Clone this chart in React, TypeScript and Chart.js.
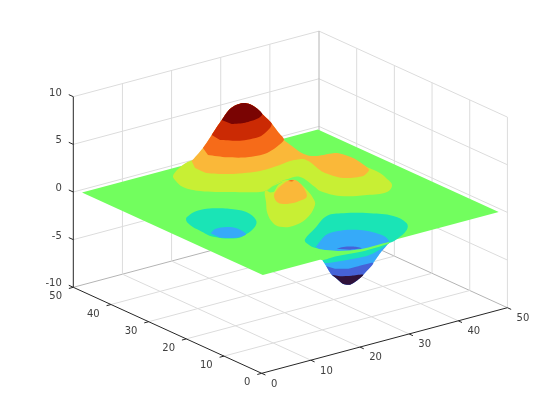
import React, { useEffect, useRef } from "react";
import { Chart, registerables } from "chart.js";

Chart.register(...registerables);

// ---- tick values ----
const xTicks = [0, 10, 20, 30, 40, 50];
const yTicks = [0, 10, 20, 30, 40, 50];
const zTicks = [-10, -5, 0, 5, 10];

// ---- surface: filled level regions, [x, y] ----
const levels = { peak: 6.63, red: 5.17, orange: 3.7, amber: 2.24, lime: 0.77, ground: 0, teal: -0.69, blue: -2.16, indigo: -3.62, pit: -5.09 };

const groundEdge = [[1, 1], [49, 1], [49, 49], [1, 49]];

// the pit's outline under the floor's front edge (read at the deepest level)
const pitRim = [[26.57, 18.57], [25.28, 15.89], [24.53, 14.31], [23.56, 12.15], [23.25, 10.87], [22.44, 7.6], [23.1, 6.69], [25.08, 7.5], [27.62, 9.05], [32.19, 12.36], [36.56, 15.83], [39.84, 18.17]];
const pitIndigoTop = [[25.4, 7.49], [23.44, 7.59], [21.73, 8.89]];
const pitDeepTop = [[25.85, 9.82], [24.17, 10.74]];
const pitWallTeal = [[15.82, 5.15], [29.46, 4.63], [28.05, 2.8], [22.32, 0.37], [18.12, 0.65], [14.21, 1.72], [14.78, 3.2]];

const pitMouthTeal = [[18.3, 12.38], [22.68, 15.43], [27.65, 18.8], [30.54, 18.16], [33.97, 15.55], [36.2, 12.28], [35.86, 8.28], [33.98, 5.83], [30.07, 3.4], [27.88, 2.76], [22.41, 4.01], [19.56, 5.61], [17.27, 7.93], [17.4, 10.74]];
const pitMouthBlue = [[21.45, 13.64], [26.38, 17.15], [30, 17], [31.92, 15.54], [32.89, 13.63], [33.31, 10.99], [32.76, 9.08], [31.92, 7.98], [26.51, 8.04], [23.19, 9.99], [21.3, 12.3]];
const pitMouthIndigo = [[27.58, 16.06], [28.91, 16.04], [30.49, 15.01], [30.9, 13.76], [29.01, 14.39]];
const pitLip = [[15.13, 5.32], [17.44, 2.4], [21, 0.85], [26.48, 0.74], [26.05, 0.19], [20.33, -0.1], [15.46, 0.71], [12.76, 0.73], [13.44, 3.12]];

const dipTeal = [[8.73, 31.47], [11.07, 33], [13.68, 33.34], [15.68, 32.4], [17.53, 30.4], [18.41, 27.99], [17.44, 24.26], [15.43, 21.9], [12.13, 19.99], [9.81, 19.43], [7.26, 22.31], [7.24, 25.81], [7.56, 28.88]];
const dipBlue = [[11.82, 28.94], [13.58, 30.1], [15.65, 29.69], [16.57, 28.24], [16.07, 25.13], [13.92, 24.79], [11.78, 26.42]];

const limeMain = [[15.25, 43.42], [17.45, 45.23], [21.65, 47.26], [29.88, 47.37], [36.94, 41.99], [37.34, 35.87], [41.65, 34.33], [42.58, 31.3], [42.67, 27.17], [42.67, 24.26], [42.04, 21.83], [40.84, 18.67], [38.23, 16.6], [34.81, 17.46], [31.06, 19.73], [29.91, 23.52], [30.38, 25.48], [31.28, 30.62], [29.18, 31.07], [26.63, 30.67], [23.38, 29.08], [21.92, 29.04], [18.07, 31.97], [14.5, 35.27], [13.43, 38.4], [14.38, 41.76]];
const limeLeg = [[22.61, 28.69], [19.96, 24.89], [16.87, 20.5], [14.87, 16.39], [14.73, 14.35], [16.59, 13.34], [20.52, 14.81], [25.32, 18.88], [27.04, 21.65], [28.82, 26.09], [29.53, 29.22], [28.89, 30.7], [26.63, 30.67], [23.38, 29.08]];
const groundNotch = [[25.24, 31.5], [27.33, 32.64], [29.82, 33.23], [28.25, 32.51], [25.86, 30.45], [25.12, 30.55]];
const bumpAmber = [[18.94, 21.43], [20.69, 23], [22.74, 24.34], [24.8, 25.28], [25.86, 24.87], [25.57, 23.17], [24.32, 20.23], [22.66, 17.6], [21.09, 16.88], [18.87, 16.65], [17.59, 17.22], [17.4, 18.7]];
const bumpTip = [[20.74, 20.06], [21.4, 20.13], [21.65, 19.65], [21.11, 19.48]];

// the hill's outline against the floor, left foot over the summit to the right foot (read at the top level)
const hillRim = [[6.14, 26.59], [8.51, 28.27], [11.25, 30.26], [13.66, 32.2], [16.03, 34.17], [18.76, 36.46], [21.53, 38.69], [24.99, 41.46], [27.31, 42.7], [29.09, 42.81], [29.61, 41.72], [29.32, 39.56], [28.43, 36.92], [27.77, 34.81], [26.96, 32.51], [25.38, 28.77], [23.9, 25.26], [23.24, 22.27], [22.58, 19.29]];
const hillAmberFoot = [[34.41, 32.59], [35.43, 31.53], [38.84, 30.67], [39.48, 27.26], [38.94, 23.62], [38.17, 21.3], [35.71, 19.68], [32.58, 20.91], [31.7, 25.07], [32.84, 30.01], [32.78, 31.8], [30.55, 32.33], [27.47, 31.77], [23.89, 31.6], [19.57, 33.14], [16.52, 36.06], [16.39, 39.07]];
const hillOrangeFoot = [[25.91, 32.38], [22.13, 32.76], [19.56, 34.72], [17.77, 37.43]];
const hillRedFoot = [[29.4, 36.13], [25.72, 33.99], [21.96, 34.4], [19.6, 36.62]];
const hillTopFoot = [[26.71, 35.73], [23.77, 35.41], [21.69, 36.25]];

// ---- colours ----
const C = {
  peak: "#7a0403", red: "#cb2a04", orange: "#f66b19", amber: "#fab839", lime: "#c8ef34",
  ground: "#72fe5e", teal: "#1ae4b6", blue: "#36aaf9", indigo: "#4662d7", pit: "#30123b",
  grid: "#dcdcdc", gridDark: "#b4b4b4", axis: "#262626", label: "#404040",
};

// ---- view: where the box corners land in the plot plane (orthographic) ----
const ORIGIN = { u: 261.7, v: 373.3 };
const XSTEP = { u: 4.914, v: -1.312 };
const YSTEP = { u: -3.768, v: -1.72 };
const ZSTEP = -9.53;
const project = (x: number, y: number, z: number) => ({
  x: ORIGIN.u + XSTEP.u * x + YSTEP.u * y,
  y: ORIGIN.v + XSTEP.v * x + YSTEP.v * y + ZSTEP * (z + 10),
});

const segment = (a: number[], b: number[], color: string) => ({
  data: [project(a[0], a[1], a[2]), project(b[0], b[1], b[2])],
  showLine: true, borderColor: color, borderWidth: 1, pointRadius: 0, fill: false, tension: 0,
});
const fillStyle = (color: string, tension: number) => ({
  showLine: true, borderWidth: 0, borderColor: color, backgroundColor: color, pointRadius: 0, fill: "shape", tension,
});
const region = (pts: number[][], z: number, color: string, tension = 0.3) => ({
  data: pts.map((p) => project(p[0], p[1], z)),
  ...fillStyle(color, tension),
});
// a smooth closed outline: the first two points are repeated so that the curve runs round the seam
const blob = (pts: number[][], z: number, color: string, tension = 0.4) =>
  region([...pts, pts[0], pts[1]], z, color, tension);
// a band of the hill or the pit: part of a shared rim plus its own edge
const rimBand = (rim: number[][], rimZ: number, from: number, to: number, edge: number[][], z: number, color: string) => ({
  data: [
    ...rim.slice(from, to + 1).map((p) => project(p[0], p[1], rimZ)),
    ...edge.map((p) => project(p[0], p[1], z)),
  ],
  ...fillStyle(color, 0.25),
});

function buildDatasets() {
  const out: any[] = [];
  // grid on the two back walls and the floor
  for (const z of zTicks) {
    const c = z === -10 ? C.gridDark : C.grid;
    out.push(segment([0, 50, z], [50, 50, z], c));
    out.push(segment([50, 50, z], [50, 0, z], c));
  }
  for (const x of xTicks.slice(1)) {
    out.push(segment([x, 50, -10], [x, 50, 10], x === 50 ? C.gridDark : C.grid));
    if (x < 50) out.push(segment([x, 0, -10], [x, 50, -10], C.grid));
  }
  for (const y of yTicks.slice(0, -1)) {
    out.push(segment([50, y, -10], [50, y, 10], C.grid));
    if (y > 0) out.push(segment([0, y, -10], [50, y, -10], C.grid));
  }
  // axes and tick marks
  out.push(segment([0, 50, -10], [0, 50, 10], C.axis));
  out.push(segment([0, 0, -10], [50, 0, -10], C.axis));
  out.push(segment([0, 0, -10], [0, 50, -10], C.axis));
  for (const z of zTicks) out.push(segment([0, 50, z], [0, 51.2, z], C.axis));
  for (const x of xTicks) out.push(segment([x, 0, -10], [x, -1, -10], C.axis));
  for (const y of yTicks) out.push(segment([0, y, -10], [-0.9, y, -10], C.axis));
  // surface, painted back to front
  out.push(rimBand(pitRim, levels.pit, 0, 11, [], levels.blue, C.blue));
  out.push(rimBand(pitRim, levels.pit, 1, 9, pitIndigoTop, levels.indigo, C.indigo));
  out.push(rimBand(pitRim, levels.pit, 3, 8, pitDeepTop, levels.pit, C.pit));
  out.push(region(pitWallTeal, levels.teal, C.teal));
  out.push(region(groundEdge, levels.ground, C.ground, 0));
  out.push(blob(pitMouthTeal, levels.teal, C.teal));
  out.push(region(pitMouthBlue, levels.blue, C.blue));
  out.push(region(pitMouthIndigo, levels.indigo, C.indigo));
  out.push(region(pitLip, levels.ground, C.ground));
  out.push(blob(dipTeal, levels.teal, C.teal));
  out.push(region(dipBlue, levels.blue, C.blue));
  out.push(blob(limeMain, levels.lime, C.lime));
  out.push(blob(limeLeg, levels.lime, C.lime));
  out.push(region(groundNotch, levels.ground, C.ground, 0.1));
  out.push(blob(bumpAmber, levels.amber, C.amber));
  out.push(region(bumpTip, levels.orange, C.orange, 0));
  out.push(rimBand(hillRim, levels.peak, 0, 18, hillAmberFoot, levels.amber, C.amber));
  out.push(rimBand(hillRim, levels.peak, 2, 16, hillOrangeFoot, levels.orange, C.orange));
  out.push(rimBand(hillRim, levels.peak, 4, 14, hillRedFoot, levels.red, C.red));
  out.push(rimBand(hillRim, levels.peak, 6, 12, hillTopFoot, levels.peak, C.peak));
  return out.reverse(); // Chart.js paints the first dataset last
}

const tickLabels = {
  id: "tickLabels",
  afterDatasetsDraw(chart: any) {
    const { ctx, scales } = chart;
    const put = (p: { x: number; y: number }, text: string, align: CanvasTextAlign, dx: number, dy: number) => {
      ctx.textAlign = align;
      ctx.fillText(text, scales.x.getPixelForValue(p.x) + dx, scales.y.getPixelForValue(p.y) + dy);
    };
    ctx.save();
    ctx.font = '10px "DejaVu Sans"';
    ctx.fillStyle = C.label;
    ctx.textBaseline = "middle";
    for (const z of zTicks) put(project(0, 50, z), String(z), "right", -11.5, -3.6);
    for (const y of yTicks) put(project(0, y, -10), String(y), "right", -11.3, 9.5);
    for (const x of xTicks) put(project(x, 0, -10), String(x), "left", 9.2, 10.8);
    ctx.restore();
  },
};

export default function App() {
  const ref = useRef<HTMLCanvasElement>(null);
  useEffect(() => {
    const chart = new Chart(ref.current as HTMLCanvasElement, {
      type: "scatter",
      data: { datasets: buildDatasets() },
      options: {
        animation: false,
        responsive: false,
        layout: { padding: 0 },
        plugins: { legend: { display: false }, tooltip: { enabled: false } },
        scales: {
          x: { type: "linear", display: false, min: 0, max: 560 },
          y: { type: "linear", display: false, min: 0, max: 420, reverse: true },
        },
      },
      plugins: [tickLabels],
    } as any);
    return () => chart.destroy();
  }, []);
  return (
    <div style={{ position: "absolute", left: 0, top: 0, width: 560, height: 420, background: "#fff" }}>
      <canvas ref={ref} width={560} height={420} style={{ display: "block" }} />
    </div>
  );
}
